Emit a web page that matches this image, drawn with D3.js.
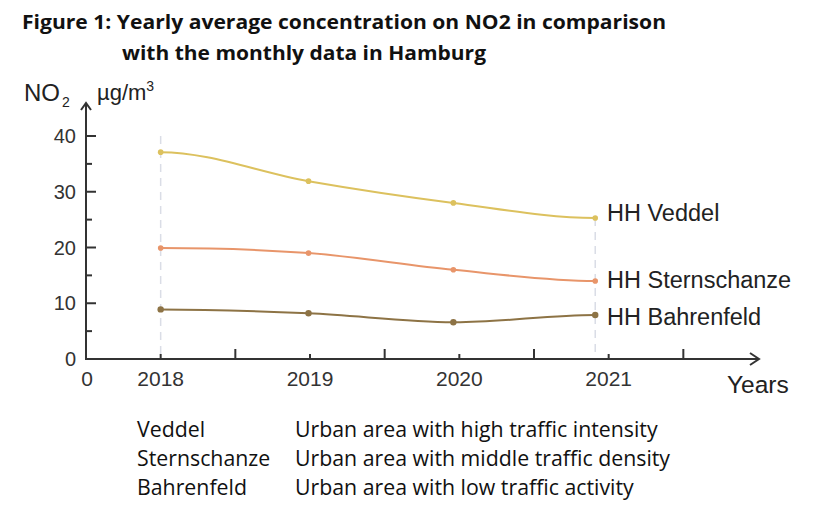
<!DOCTYPE html>
<html><head><meta charset="utf-8">
<script src="https://cdn.jsdelivr.net/npm/d3@7/dist/d3.min.js"></script>
<style>
body{margin:0;background:#fff;}
svg{display:block;}
</style></head>
<body>
<svg id="c" width="821" height="512"></svg>
<script>
const sampleYears = [2018, 2018.99, 2019.96, 2020.91];
const tickYears = [2018, 2019, 2020, 2021];
const yTicks = [0, 10, 20, 30, 40];
const seriesNames = ["HH Veddel", "HH Sternschanze", "HH Bahrenfeld"];
const veddel = [37.1, 31.9, 28.0, 25.3];
const sternschanze = [19.9, 19.0, 16.0, 14.0];
const bahrenfeld = [8.9, 8.2, 6.6, 7.9];
const seriesColors = ["#dcc15e", "#e8956a", "#8d7345"];
const legendSites = ["Veddel", "Sternschanze", "Bahrenfeld"];
const legendDescs = ["Urban area with high traffic intensity", "Urban area with middle traffic density", "Urban area with low traffic activity"];

const svg = d3.select("#c");
const x = d3.scaleLinear().domain([2017.5, 2022]).range([86, 758]);
const y = d3.scaleLinear().domain([0, 40]).range([359, 136]);
const axisColor = "#333";
const arial = "Liberation Sans, Arial, sans-serif";
const sans = "'Open Sans', 'Noto Sans', sans-serif";

// Clamped cubic spline curve (flat at both ends), usable with d3.line
function curveClamped(context) {
  let pts = [];
  return {
    areaStart() {}, areaEnd() {},
    lineStart() { pts = []; },
    point(px, py) { pts.push([+px, +py]); },
    lineEnd() {
      const n = pts.length;
      if (!n) return;
      const m = pts.map((p, i) => (i === 0 || i === n - 1) ? 0 :
        (pts[i + 1][1] - pts[i - 1][1]) / (pts[i + 1][0] - pts[i - 1][0]));
      context.moveTo(pts[0][0], pts[0][1]);
      for (let i = 0; i < n - 1; i++) {
        const h = pts[i + 1][0] - pts[i][0];
        context.bezierCurveTo(pts[i][0] + h / 3, pts[i][1] + m[i] * h / 3,
          pts[i + 1][0] - h / 3, pts[i + 1][1] - m[i + 1] * h / 3,
          pts[i + 1][0], pts[i + 1][1]);
      }
    }
  };
}

// Title
svg.append("text").attr("x", 22).attr("y", 29).attr("font-family", sans).attr("font-weight", "bold")
  .attr("font-size", 19.5).attr("fill", "#111").attr("textLength", 644).attr("lengthAdjust", "spacingAndGlyphs")
  .text("Figure 1: Yearly average concentration on NO2 in comparison");
svg.append("text").attr("x", 122).attr("y", 60).attr("font-family", sans).attr("font-weight", "bold")
  .attr("font-size", 19.5).attr("fill", "#111").attr("textLength", 364).attr("lengthAdjust", "spacingAndGlyphs")
  .text("with the monthly data in Hamburg");

// Y-axis label
const yl = svg.append("text").attr("x", 24).attr("y", 101).attr("font-family", arial).attr("font-size", 24).attr("fill", "#222");
yl.append("tspan").text("NO");
yl.append("tspan").attr("font-size", 14).attr("dy", 6).attr("dx", 2).text("2");
const ul = svg.append("text").attr("x", 97).attr("y", 100).attr("font-family", arial).attr("font-size", 22).attr("fill", "#222");
ul.append("tspan").text("µg/m");
ul.append("tspan").attr("font-size", 14).attr("dy", -9).text("3");

// Dashed guides
[sampleYears[0], sampleYears[3]].forEach((yr, i) => {
  const top = i === 0 ? y(40) : y(veddel[3]);
  svg.append("line").attr("x1", x(yr)).attr("x2", x(yr)).attr("y1", top).attr("y2", y(0))
    .attr("stroke", "#dadde6").attr("stroke-width", 1.5).attr("stroke-dasharray", "8,6");
});

// Y axis
svg.append("line").attr("x1", x(2017.5)).attr("x2", x(2017.5)).attr("y1", y(0)).attr("y2", 104)
  .attr("stroke", axisColor).attr("stroke-width", 2);
svg.append("path").attr("d", `M${x(2017.5)-5},${110} L${x(2017.5)},${103} L${x(2017.5)+5},${110}`)
  .attr("fill", "none").attr("stroke", axisColor).attr("stroke-width", 2);
const yMinor = d3.range(5, 40, 10);
yTicks.filter(d => d > 0).forEach(t => {
  svg.append("line").attr("x1", x(2017.5)).attr("x2", x(2017.5) + 10).attr("y1", y(t)).attr("y2", y(t))
    .attr("stroke", axisColor).attr("stroke-width", 2);
});
yMinor.forEach(t => {
  svg.append("line").attr("x1", x(2017.5)).attr("x2", x(2017.5) + 6).attr("y1", y(t)).attr("y2", y(t))
    .attr("stroke", axisColor).attr("stroke-width", 2);
});
yTicks.forEach(t => {
  svg.append("text").attr("x", 76).attr("y", y(t)).attr("dy", "0.35em").attr("text-anchor", "end")
    .attr("font-family", arial).attr("font-size", 20).attr("fill", "#333").text(t);
});

// X axis
svg.append("line").attr("x1", x(2017.5)-1).attr("x2", x(2022)).attr("y1", y(0)).attr("y2", y(0))
  .attr("stroke", axisColor).attr("stroke-width", 2);
svg.append("path").attr("d", `M${x(2022)-8},${y(0)-6} L${x(2022)+1},${y(0)} L${x(2022)-8},${y(0)+6}`)
  .attr("fill", "none").attr("stroke", axisColor).attr("stroke-width", 2);
const xMajor = [2018.5, 2019.5, 2020.5, 2021.5];
xMajor.forEach(t => {
  svg.append("line").attr("x1", x(t)).attr("x2", x(t)).attr("y1", y(0)).attr("y2", y(0) - 10)
    .attr("stroke", axisColor).attr("stroke-width", 2);
});
tickYears.forEach(t => {
  svg.append("line").attr("x1", x(t)).attr("x2", x(t)).attr("y1", y(0)).attr("y2", y(0) - 5)
    .attr("stroke", axisColor).attr("stroke-width", 2);
  svg.append("text").attr("x", x(t)).attr("y", 386).attr("text-anchor", "middle")
    .attr("font-family", arial).attr("font-size", 21).attr("fill", "#333").text(t);
});
svg.append("text").attr("x", x(2017.5) + 1).attr("y", 386).attr("text-anchor", "middle")
  .attr("font-family", arial).attr("font-size", 21).attr("fill", "#333").text("0");
svg.append("text").attr("x", 727).attr("y", 393).attr("font-family", arial).attr("font-size", 24.5).attr("fill", "#222").text("Years");

// Series
const allSeries = [veddel, sternschanze, bahrenfeld];
const line = d3.line().x((d, i) => x(sampleYears[i])).y(d => y(d)).curve(curveClamped);
allSeries.forEach((vals, si) => {
  svg.append("path").attr("d", line(vals)).attr("fill", "none").attr("stroke", seriesColors[si]).attr("stroke-width", 2);
  svg.selectAll(null).data(vals).enter().append("circle")
    .attr("cx", (d, i) => x(sampleYears[i])).attr("cy", d => y(d)).attr("r", si === 2 ? 3.2 : 2.8)
    .attr("fill", seriesColors[si]);
});
const labelY = [221, 288, 325];
seriesNames.forEach((n, i) => {
  svg.append("text").attr("x", 607).attr("y", labelY[i]).attr("font-family", arial).attr("font-size", 23.5)
    .attr("fill", "#222").text(n);
});

// Legend
const rowY = [437, 466, 495];
legendSites.forEach((s, i) => {
  svg.append("text").attr("x", 137).attr("y", rowY[i]).attr("font-family", sans).attr("font-size", 21.3).attr("fill", "#111").text(s);
  svg.append("text").attr("x", 295).attr("y", rowY[i]).attr("font-family", sans).attr("font-size", 21.3).attr("fill", "#111").text(legendDescs[i]);
});
</script>
</body></html>
